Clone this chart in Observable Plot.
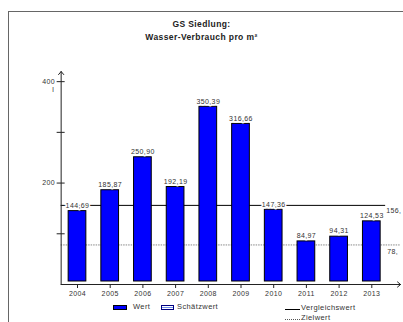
<!DOCTYPE html>
<html>
<head>
<meta charset="utf-8">
<script src="https://cdn.jsdelivr.net/npm/d3@7"></script>
<script src="https://cdn.jsdelivr.net/npm/@observablehq/plot@0.6"></script>
<style>
  body { margin: 0; background: #fff; font-family: "Liberation Sans", Arial, sans-serif; }
  #wrap { position: relative; width: 403px; height: 322px; overflow: hidden; }
  #border { position: absolute; left: 8px; top: 11px; width: 400px; height: 320px;
            border-left: 1px solid #666; border-top: 1px solid #666; }
  #chart { position: absolute; left: 0; top: 0; }
  #chart text { letter-spacing: 0.4px; }
  #title { position: absolute; left: 0; top: 18px; width: 403px; text-align: center;
           font-weight: bold; font-size: 8.5px; line-height: 13px; color: #222; letter-spacing: 0.4px; }
  .lg { position: absolute; font-size: 7.5px; line-height: 10px; color: #333; letter-spacing: 0.4px; white-space: nowrap; }
  .sw { position: absolute; box-sizing: border-box; }
</style>
</head>
<body>
<div id="wrap">
  <div id="border"></div>
  <div id="chart"></div>
  <div id="title"></div>
  <div id="legend"></div>
</div>
<script>
// Water consumption per m² for the GS Siedlung site
const titleLines = ["GS Siedlung:", "Wasser-Verbrauch pro m²"];
const years = [2004, 2005, 2006, 2007, 2008, 2009, 2010, 2011, 2012, 2013];
const wert = [144.69, 185.87, 250.90, 192.19, 350.39, 316.66, 147.36, 84.97, 94.31, 124.53];
const vergleichswert = 156;
const zielwert = 78;
const yTicks = [100, 200, 300, 400];
const yTickLabels = [200, 400];
const yUnit = "l";
const yMax = 420;
const legendItems = ["Wert", "Schätzwert", "Vergleichswert", "Zielwert"];

const fmt = v => v.toFixed(2).replace(".", ",");
// reference-line labels show the integer part only
const fmtShort = v => Math.round(v) + ",";
const data = years.map((year, i) => ({year, value: wert[i]}));
const x0 = years[0] - 0.5;
const x1 = years[years.length - 1] + 0.5;
const xArrowEnd = years[years.length - 1] + 0.88;

const chart = Plot.plot({
  width: 403,
  height: 322,
  marginLeft: 60.65,
  marginRight: 15.35,
  marginTop: 71,
  marginBottom: 38,
  style: {fontFamily: "'Liberation Sans', Arial, sans-serif", fontSize: "7px", color: "#333", background: "transparent"},
  x: {type: "linear", domain: [x0, x1], label: null},
  y: {domain: [0, yMax], label: null},
  marks: [
    // reference lines behind the bars
    Plot.ruleY([zielwert], {stroke: "#888", strokeDasharray: "1.5,1", insetRight: -12}),
    Plot.ruleY([vergleichswert], {stroke: "#000", strokeWidth: 1, insetRight: 2.5}),
    Plot.rectY(data, {
      x1: d => d.year - 0.5, x2: d => d.year + 0.5, y: "value",
      insetLeft: 7.5, insetRight: 7.5, insetBottom: 3,
      fill: "#0000ff", stroke: "#000", strokeWidth: 1
    }),
    // axes with arrowheads
    Plot.arrow([{a: x0, b: 0, c: x0, d: yMax}, {a: x0, b: 0, c: xArrowEnd, d: 0}], {
      x1: "a", y1: "b", x2: "c", y2: "d", stroke: "#222", strokeWidth: 1, headLength: 6, headAngle: 80
    }),
    Plot.axisY(yTicks, {tickSize: 8, dx: 4, tickFormat: () => "", label: null, stroke: "#222"}),
    Plot.axisY(yTickLabels, {tickSize: 0, tickPadding: 6, label: null, fill: "#333"}),
    Plot.text([{v: 400, t: yUnit}], {y: "v", text: "t", frameAnchor: "left", dx: -9, dy: 8, fill: "#333"}),
    Plot.axisX(years, {tickSize: 4, tickPadding: 3, tickFormat: d => String(d), label: null, stroke: "#222", fill: "#333"}),
    // value labels
    Plot.text(data, {
      x: "year", y: "value", text: d => fmt(d.value), dy: -5.5,
      fill: "#333", stroke: "#fff", strokeWidth: 3
    }),
    Plot.text([vergleichswert], {y: d => d, text: d => fmtShort(d), frameAnchor: "right", textAnchor: "start", dx: -2, dy: 5, fill: "#333"}),
    Plot.text([zielwert], {y: d => d, text: d => fmtShort(d), frameAnchor: "right", textAnchor: "start", dx: -1, dy: 6.5, fill: "#333"})
  ]
});
document.getElementById("chart").appendChild(chart);

document.getElementById("title").innerHTML = titleLines.join("<br>");

// legend
const legend = document.getElementById("legend");
function add(cls, css, text) {
  const el = document.createElement("div");
  el.className = cls;
  el.style.cssText = css;
  if (text) el.textContent = text;
  legend.appendChild(el);
}
add("sw", "left:113px;top:305px;width:14px;height:5px;background:#0000ff;border:1px solid #000;");
add("lg", "left:133px;top:302px;", legendItems[0]);
add("sw", "left:161px;top:305px;width:13px;height:5px;border:1px solid #000080;background:linear-gradient(#fff 0 30%, #6f8ff0 30% 70%, #fff 70%);");
add("lg", "left:177px;top:302px;", legendItems[1]);
add("sw", "left:285px;top:309px;width:15px;height:0;border-top:1px solid #000;");
add("lg", "left:301px;top:303px;", legendItems[2]);
add("sw", "left:285px;top:319px;width:15px;height:0;border-top:1px dotted #555;");
add("lg", "left:301px;top:313px;", legendItems[3]);
</script>
</body>
</html>
